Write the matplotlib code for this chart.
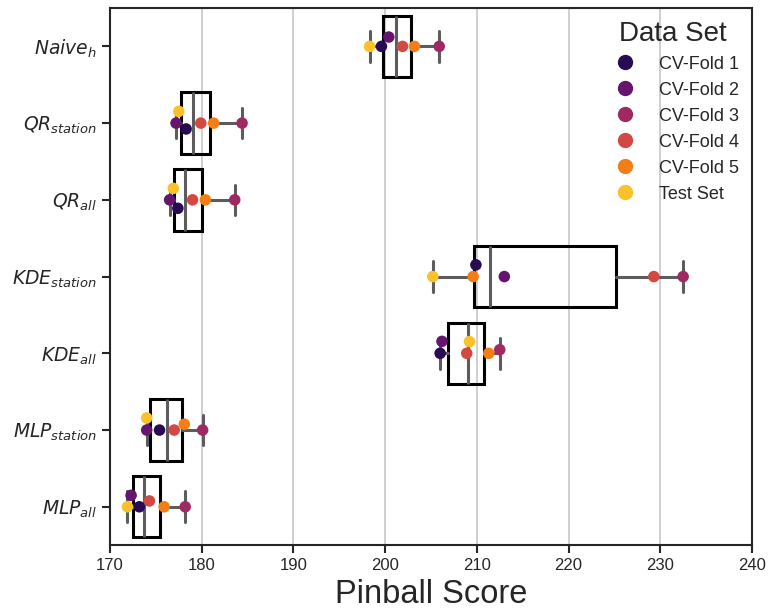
import matplotlib
matplotlib.use("Agg")
import matplotlib.pyplot as plt
import seaborn as sns
import pandas as pd
import numpy as np

models = ["Naive_h", "QR_station", "QR_all", "KDE_station", "KDE_all", "MLP_station", "MLP_all"]
model_labels = [r"$Naive_h$", r"$QR_{station}$", r"$QR_{all}$", r"$KDE_{station}$",
                r"$KDE_{all}$", r"$MLP_{station}$", r"$MLP_{all}$"]
data_sets = ["CV-Fold 1", "CV-Fold 2", "CV-Fold 3", "CV-Fold 4", "CV-Fold 5", "Test Set"]

cv_fold_1 = [199.6, 178.3, 177.4, 209.9, 206.0, 175.4, 173.2]
cv_fold_2 = [200.4, 177.2, 176.5, 213.0, 206.2, 174.0, 172.3]
cv_fold_3 = [205.9, 184.4, 183.6, 232.5, 212.5, 180.1, 178.2]
cv_fold_4 = [201.9, 179.9, 179.0, 229.3, 208.9, 177.0, 174.3]
cv_fold_5 = [203.2, 181.3, 180.4, 209.6, 211.3, 178.1, 175.9]
test_set = [198.3, 177.5, 176.9, 205.2, 209.2, 174.0, 171.9]

series = [cv_fold_1, cv_fold_2, cv_fold_3, cv_fold_4, cv_fold_5, test_set]
rows = []
for name, vals in zip(data_sets, series):
    for m, v in zip(models, vals):
        rows.append({"model": m, "set": name, "score": v})
df = pd.DataFrame(rows)

sns.set_style("ticks")
plt.rcParams["font.family"] = ["Liberation Sans", "DejaVu Sans"]
plt.rcParams["mathtext.fontset"] = "dejavusans"

fig = plt.figure(figsize=(7.72, 6.16), dpi=100)
ax = fig.add_axes([0.1425, 0.115, 0.8315, 0.872])

ax.grid(axis="x", color="#cccccc", linewidth=1.3, zorder=0)
ax.set_axisbelow(True)

box_data = [df[df.model == m]["score"].values for m in models]
gray = "#5c5c5c"
ax.boxplot(box_data, positions=np.arange(len(models)), vert=False, widths=0.8,
           patch_artist=True, showfliers=False, capwidths=0.4,
           boxprops=dict(facecolor="none", edgecolor="black", linewidth=2.2),
           whiskerprops=dict(color=gray, linewidth=2.2),
           capprops=dict(color=gray, linewidth=2.2),
           medianprops=dict(color=gray, linewidth=2.2),
           zorder=2)

palette = sns.color_palette("inferno", 6)
sns.swarmplot(data=df, x="score", y="model", hue="set", order=models, hue_order=data_sets,
              palette=palette, size=8.3, ax=ax, zorder=3, legend=False)

ax.set_xlim(170, 240)
ax.set_ylim(6.5, -0.5)
ax.set_xticks(np.arange(170, 241, 10))
ax.set_yticks(np.arange(len(models)))
ax.set_yticklabels(model_labels, fontsize=13.5)
ax.tick_params(axis="x", labelsize=12, length=6, width=1.5, colors="#262626")
ax.tick_params(axis="y", length=6, width=1.5, colors="#262626")
ax.set_ylabel("")
ax.set_xlabel("Pinball Score", fontsize=23.5, color="#262626", labelpad=4)
for s in ax.spines.values():
    s.set_linewidth(1.5)
    s.set_color("#262626")

handles = [plt.Line2D([], [], marker="o", linestyle="", markersize=10, color=c) for c in palette]
leg = ax.legend(handles, data_sets, title="Data Set", loc="upper right", frameon=False,
                fontsize=13, title_fontsize=20, labelspacing=0.5, handletextpad=0.9,
                borderaxespad=0.3)
for t in leg.get_texts():
    t.set_color("#262626")
leg.get_title().set_color("#262626")

# compute the swarm layout once, freeze it, and make the first dodged point go upward
fig.canvas.draw()
for coll in ax.collections:
    offs = np.asarray(coll.get_offsets()).copy()
    if len(offs) == 0:
        continue
    if "draw" in coll.__dict__:
        del coll.__dict__["draw"]
    center = np.round(np.median(offs[:, 1]))
    dev = offs[:, 1] - center
    moved = np.where(np.abs(dev) > 1e-3)[0]
    if len(moved):
        first = moved[np.argmin(offs[moved, 0])]
        if dev[first] > 0:
            offs[:, 1] = 2 * center - offs[:, 1]
    coll.set_offsets(offs)

fig.savefig("out.png", dpi=100)
